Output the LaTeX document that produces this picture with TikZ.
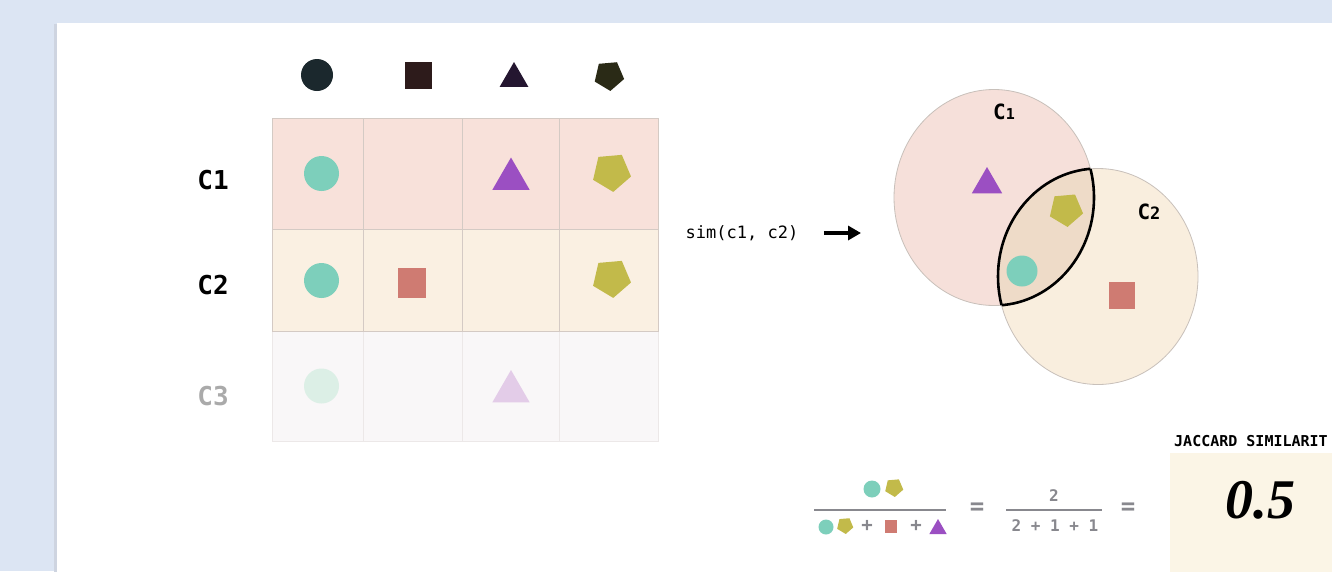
\documentclass[tikz,border=0pt]{standalone}
\usepackage{fontspec}
\setmonofont{DejaVu Sans Mono}
\newfontfamily\scorefont{Liberation Serif}
\usetikzlibrary{arrows.meta,positioning,shapes.geometric}
\definecolor{pagebg}{RGB}{220,229,243}
\definecolor{cardshade}{RGB}{206,212,224}
\definecolor{rowpink}{RGB}{248,225,218}
\definecolor{rowcream}{RGB}{250,240,226}
\definecolor{rowfaint}{RGB}{249,247,248}
\definecolor{gridline}{RGB}{212,202,196}
\definecolor{gridfaint}{RGB}{236,232,232}
\definecolor{setteal}{RGB}{125,207,187}
\definecolor{setpurple}{RGB}{155,79,194}
\definecolor{setolive}{RGB}{194,186,74}
\definecolor{setsalmon}{RGB}{207,123,114}
\definecolor{fadeteal}{RGB}{220,239,230}
\definecolor{fadepurple}{RGB}{227,204,232}
\definecolor{headdot}{RGB}{27,40,45}
\definecolor{headsq}{RGB}{45,27,27}
\definecolor{headtri}{RGB}{36,22,48}
\definecolor{headpent}{RGB}{42,42,22}
\definecolor{vennpink}{RGB}{246,224,218}
\definecolor{venncream}{RGB}{249,238,222}
\definecolor{vennlens}{RGB}{238,219,200}
\definecolor{vennline}{RGB}{200,192,186}
\definecolor{formgray}{RGB}{136,136,142}
\definecolor{labelgray}{RGB}{170,170,170}
\definecolor{scorecream}{RGB}{251,245,230}
\newcommand{\monosize}[1]{\fontsize{#1}{#1}\selectfont\ttfamily}

\begin{document}
\begin{tikzpicture}[x=1pt, y=-1pt,
    dot/.style 2 args={circle,fill=#1,inner sep=0pt,minimum size=#2},
    sqr/.style 2 args={rectangle,fill=#1,inner sep=0pt,minimum width=#2,minimum height=#2},
    tri/.style 2 args={regular polygon,regular polygon sides=3,fill=#1,inner sep=0pt,minimum size=#2},
    pent/.style 2 args={regular polygon,regular polygon sides=5,shape border rotate=185,
      fill=#1,inner sep=0pt,minimum size=#2},
    band/.style={rectangle,fill=#1,inner sep=0pt,minimum width=386pt},
    rowlabel/.style={font=\monosize{26}\bfseries,inner sep=0pt},
    setnode/.style={ellipse,fill=#1,draw=vennline,thick,inner sep=0pt,
      minimum width=200pt,minimum height=216pt},
    formtext/.style={font=\monosize{#1}\bfseries,text=formgray,inner sep=0pt}]
  \useasboundingbox (0,0) rectangle (1332,571);
  \clip (0,0) rectangle (1332,571);
  \fill[pagebg] (0,0) rectangle (1332,571);
  \fill[cardshade] (54,24) rectangle (57,580);
  \fill[white] (57,23) rectangle (1340,580);

  % header symbols
  \node[dot={headdot}{32pt}] (hdot) at (317,75) {};
  \node[sqr={headsq}{27pt}] (hsq) at (418,75.5) {};
  \node[tri={headtri}{33pt}] (htri) at (514,78.5) {};
  \node[pent={headpent}{31pt}] (hpent) at (609,75.5) {};

  % rows of the table
  \node[band=rowpink,minimum height=111pt] (row1) at (465,173.5) {};
  \node[band=rowcream,minimum height=102pt] (row2) at (465,280) {};
  \node[band=rowfaint,minimum height=110pt] (row3) at (465,386) {};
  \foreach \x in {363,462,559}
    \draw[gridfaint] (\x,331) -- (\x,441);
  \draw[gridfaint] (row3.north west) rectangle (row3.south east);
  \foreach \x in {363,462,559}
    \draw[gridline] (\x,118) -- (\x,331);
  \draw[gridline] (row1.north west) rectangle (row2.south east);
  \draw[gridline] (row1.south west) -- (row1.south east);

  \node[rowlabel] (c1) at (213,180) {C1};
  \node[rowlabel] (c2) at (213,285) {C2};
  \node[rowlabel,text=labelgray] (c3) at (213,396) {C3};

  \node[dot={setteal}{35pt}] (r1dot) at (321.5,173.5) {};
  \node[tri={setpurple}{43pt}] (r1tri) at (511,179) {};
  \node[pent={setolive}{40pt}] (r1pent) at (611.5,172) {};
  \node[dot={setteal}{35pt}] (r2dot) at (321.5,280.5) {};
  \node[sqr={setsalmon}{28pt},minimum height=30pt] (r2sq) at (411.5,283) {};
  \node[pent={setolive}{40pt}] (r2pent) at (611.5,278) {};
  \node[dot={fadeteal}{35pt}] (r3dot) at (321.5,386) {};
  \node[tri={fadepurple}{43pt}] (r3tri) at (511,391.5) {};

  % similarity arrow
  \node[font=\monosize{17}] (sim) at (742,233) {sim(c1, c2)};
  \coordinate (simtip) at (861,233);
  \draw[line width=3.5pt,-{Triangle[length=13pt,width=14pt]}] ([xshift=22pt]sim.east) -- (simtip);

  % venn diagram
  \node[setnode=vennpink] (set1) at (994,197.5) {};
  \node[setnode=venncream] (set2) at (1098,276.5) {};
  \begin{scope}
    \clip (set1.center) ellipse (100 and 108);
    \fill[vennlens] (set2.center) ellipse (100 and 108);
    \draw[line width=2.6pt] (set2.center) ellipse (100 and 108);
  \end{scope}
  \begin{scope}
    \clip (set2.center) ellipse (100 and 108);
    \draw[line width=2.6pt] (set1.center) ellipse (100 and 108);
  \end{scope}
  \node[font=\monosize{21}\bfseries] (set1name) at (1004,112) {C{\fontsize{15}{15}\selectfont 1}};
  \node[font=\monosize{21}\bfseries] (set2name) at (1149,212) {C{\fontsize{17}{17}\selectfont 2}};
  \node[tri={setpurple}{35pt}] (vtri) at (987,184.5) {};
  \node[pent={setolive}{35pt}] (vpent) at (1066,209.5) {};
  \node[dot={setteal}{31pt}] (vdot) at (1022,271) {};
  \node[sqr={setsalmon}{26pt},minimum height=27pt] (vsq) at (1122,295.5) {};

  % jaccard formula
  \node[dot={setteal}{17pt}] (numdot) at (872,489) {};
  \node[pent={setolive}{19pt}] (numpent) at (894,487.5) {};
  \draw[formgray,line width=1.5pt] (814,510) -- (946,510);
  \node[dot={setteal}{15pt}] (dendot) at (826,527) {};
  \node[pent={setolive}{17pt}] (denpent) at (845,525.5) {};
  \node[formtext=19] (plusa) at (867,526) {+};
  \node[sqr={setsalmon}{12.5pt}] (densq) at (891,526.5) {};
  \node[formtext=19] (plusb) at (916,526) {+};
  \node[tri={setpurple}{20pt}] (dentri) at (938,529) {};
  \node[formtext=24] (eqa) at (977,509) {=};
  \node[formtext=16] (numtwo) at (1054,496) {2};
  \draw[formgray,line width=1.5pt] (1006,510) -- (1102,510);
  \node[formtext=16] (densum) at (1055,526) {2 + 1 + 1};
  \node[formtext=24] (eqb) at (1128,509) {=};

  % score box
  \node[rectangle,fill=scorecream,inner sep=0pt,minimum width=175pt,minimum height=132pt,
    anchor=north west] (score) at (1170,453) {};
  \node[font=\monosize{15}\bfseries,anchor=south west,inner sep=0pt]
    (scorename) at ([xshift=4pt,yshift=6pt]score.north west) {JACCARD SIMILARIT};
  \node[font=\fontsize{56}{56}\selectfont\scorefont\bfseries\itshape] (scoreval) at (1260,500) {0.5};
\end{tikzpicture}
\end{document}
